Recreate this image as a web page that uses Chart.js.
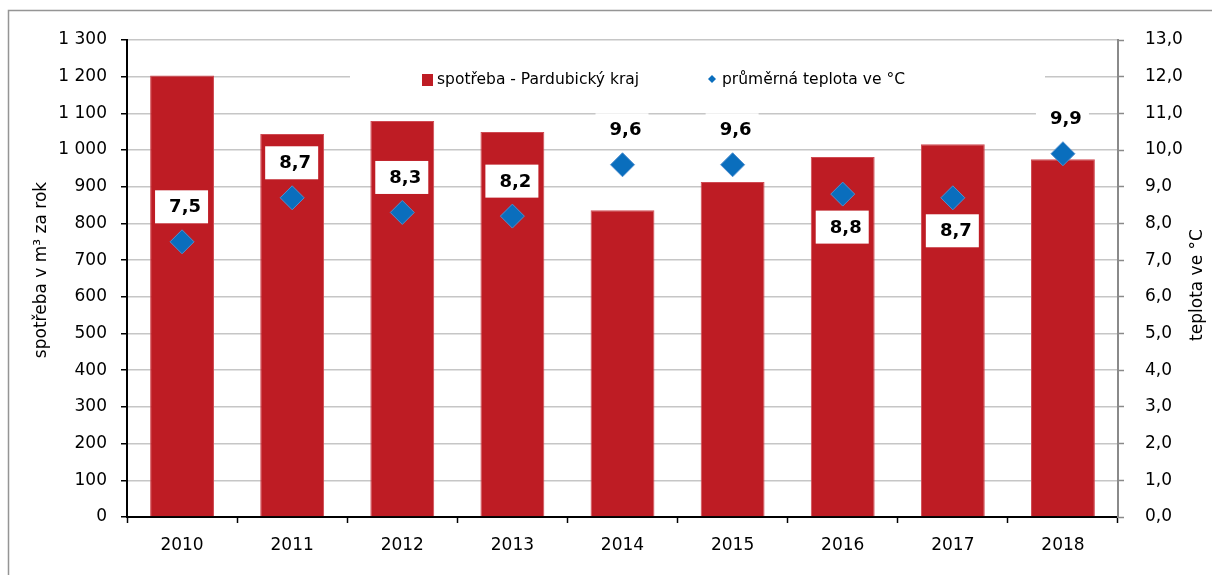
<!DOCTYPE html>
<html><head><meta charset="utf-8">
<script src="https://cdn.jsdelivr.net/npm/chart.js@4.4.1/dist/chart.umd.min.js"></script>
<style>html,body{margin:0;padding:0;background:#fff;overflow:hidden}canvas{display:block}</style>
</head><body>
<canvas id="c" width="1212" height="575"></canvas>
<script>
const years = ['2010','2011','2012','2013','2014','2015','2016','2017','2018'];
const consumption = [1203,1044,1079,1049,836,913,981,1016,975];
const temperature = [7.5,8.7,8.3,8.2,9.6,9.6,8.8,8.7,9.9];
const labelSide = ['above','above','above','above','above','above','below','below','above'];
const seriesNames = ['spotřeba - Pardubický kraj','průměrná teplota ve °C'];
const leftAxisTitle = 'spotřeba v m³ za rok';
const rightAxisTitle = 'teplota ve °C';

const FONT = '"DejaVu Sans", sans-serif';
const RED = '#BE1C24';
const BLUE = '#0A6EBD';

const decor = {
  id: 'decor',
  beforeDraw(chart) {
    const ctx = chart.ctx;
    ctx.save();
    ctx.fillStyle = '#fff';
    ctx.fillRect(0, 0, chart.width, chart.height);
    ctx.strokeStyle = '#959595';
    ctx.lineWidth = 1.5;
    ctx.beginPath();
    ctx.moveTo(8.5, chart.height + 2);
    ctx.lineTo(8.5, 10.5);
    ctx.lineTo(chart.width + 2, 10.5);
    ctx.stroke();
    // axis titles
    ctx.fillStyle = '#000';
    ctx.font = '17px ' + FONT;
    ctx.textAlign = 'center';
    ctx.textBaseline = 'middle';
    ctx.translate(42, 270);
    ctx.rotate(-Math.PI / 2);
    ctx.fillText(leftAxisTitle, 0, 0);
    ctx.restore();
    ctx.save();
    ctx.fillStyle = '#000';
    ctx.font = '17px ' + FONT;
    ctx.textAlign = 'center';
    ctx.textBaseline = 'middle';
    ctx.translate(1198, 285);
    ctx.rotate(-Math.PI / 2);
    ctx.fillText(rightAxisTitle, 0, 0);
    ctx.restore();
  },
  afterDatasetsDraw(chart) {
    const ctx = chart.ctx;
    ctx.save();
    // legend box
    ctx.fillStyle = '#fff';
    ctx.fillRect(350, 60, 695, 37);
    ctx.fillStyle = chart.data.datasets[0].backgroundColor;
    ctx.fillRect(422, 74, 11, 12);
    ctx.fillStyle = '#000';
    ctx.font = '15.5px ' + FONT;
    ctx.textAlign = 'left';
    ctx.textBaseline = 'middle';
    ctx.fillText(chart.data.datasets[0].label, 437, 80);
    ctx.fillText(chart.data.datasets[1].label, 722, 80);
    ctx.fillStyle = BLUE;
    ctx.beginPath();
    ctx.moveTo(712, 75); ctx.lineTo(716, 79); ctx.lineTo(712, 83); ctx.lineTo(708, 79);
    ctx.closePath(); ctx.fill();
    // data labels
    const meta = chart.getDatasetMeta(1);
    ctx.font = 'bold 18px ' + FONT;
    ctx.textAlign = 'center';
    meta.data.forEach((pt, i) => {
      const cx = pt.x;
      const cy = pt.y + (labelSide[i] === 'above' ? -35 : 33);
      ctx.fillStyle = '#fff';
      ctx.fillRect(cx - 27, cy - 16.5, 53, 33);
      ctx.fillStyle = '#000';
      ctx.fillText(temperature[i].toFixed(1).replace('.', ','), cx + 3, cy + 1);
    });
    ctx.restore();
  }
};

new Chart(document.getElementById('c'), {
  data: {
    labels: years,
    datasets: [
      {
        type: 'bar', label: seriesNames[0], data: consumption, yAxisID: 'y', order: 1,
        backgroundColor: RED, borderColor: '#CF4A52', borderWidth: 1,
        barPercentage: 0.58, categoryPercentage: 1
      },
      {
        type: 'line', label: seriesNames[1], data: temperature, yAxisID: 'y1', order: 0,
        showLine: false, pointStyle: 'rectRot', pointRadius: 12,
        pointBackgroundColor: BLUE, pointBorderColor: '#4F8FCF', pointBorderWidth: 1
      }
    ]
  },
  options: {
    responsive: false,
    animation: false,
    layout: { padding: { top: 40, left: 0, right: 0, bottom: 0 } },
    plugins: { legend: { display: false }, tooltip: { enabled: false } },
    scales: {
      x: {
        grid: { display: true, drawOnChartArea: false, offset: true, tickLength: 6, tickColor: '#000', tickWidth: 1.5 },
        border: { color: '#000', width: 2 },
        ticks: { color: '#000', font: { family: FONT, size: 17 }, padding: 12, maxRotation: 0 },
        afterFit(s) { s.height = 58; }
      },
      y: {
        position: 'left', min: 0, max: 1300,
        grid: { color: '#c6c6c6', lineWidth: 1.5, tickLength: 6, tickColor: '#000', tickWidth: 1.5 },
        border: { color: '#000', width: 2 },
        ticks: {
          stepSize: 100, color: '#000', font: { family: FONT, size: 17 }, padding: 14,
          callback: v => String(v).replace(/\B(?=(\d{3})+(?!\d))/g, ' ')
        },
        afterFit(s) { s.width = 127; }
      },
      y1: {
        position: 'right', min: 0, max: 13,
        grid: { drawOnChartArea: false, tickLength: 6, tickColor: '#8a8a8a', tickWidth: 1.5 },
        border: { color: '#8a8a8a', width: 2 },
        ticks: {
          stepSize: 1, color: '#000', font: { family: FONT, size: 17 }, padding: 21,
          callback: v => Number(v).toFixed(1).replace('.', ',')
        },
        afterFit(s) { s.width = 94; }
      }
    }
  },
  plugins: [decor]
});
</script>
</body></html>
